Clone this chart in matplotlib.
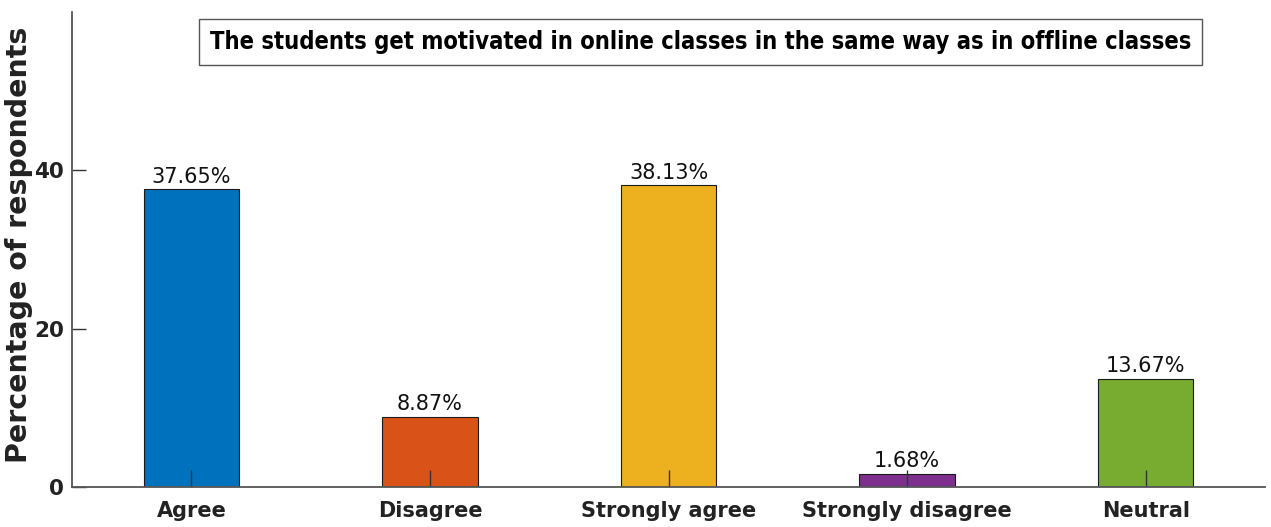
import matplotlib.pyplot as plt
import numpy as np

categories = ['Agree', 'Disagree', 'Strongly agree', 'Strongly disagree', 'Neutral']
percentages = [37.65, 8.87, 38.13, 1.68, 13.67]
bar_colors = ['#0072BD', '#D95319', '#EDB120', '#7E2F8E', '#77AC30']
title = 'The students get motivated in online classes in the same way as in offline classes'

fig = plt.figure(figsize=(12.71, 5.27), dpi=100)
ax = fig.add_axes([0.0567, 0.0759, 0.9386, 0.901])

x = np.arange(len(categories))
bars = ax.bar(x, percentages, width=0.4, color=bar_colors, edgecolor='#1a1a1a', linewidth=0.8)

for b, v in zip(bars, percentages):
    ax.text(b.get_x() + b.get_width() / 2, v + 0.3, f'{v:.2f}%',
            ha='center', va='bottom', fontsize=15, color='#111111')

ax.set_xlim(-0.5, 4.5)
ax.set_ylim(0, 60)
ax.set_yticks([0, 20, 40])
ax.set_xticks(x)
ax.set_xticklabels(categories, fontsize=15, fontweight='bold', color='#222222')
for lbl in ax.get_yticklabels():
    lbl.set_fontsize(15.5)
    lbl.set_fontweight('bold')
    lbl.set_color('#222222')
ax.tick_params(axis='y', direction='in', length=10, width=1, color='#333333', pad=6)
ax.tick_params(axis='x', direction='in', length=12, width=1, color='#333333', pad=10)

for s in ['top', 'right']:
    ax.spines[s].set_visible(False)
for s in ['left', 'bottom']:
    ax.spines[s].set_color('#555555')
    ax.spines[s].set_linewidth(1.3)

# y label placed in figure coords so it fits at the left edge
fig.text(19 / 1271, 1 - 245 / 527, 'Percentage of respondents', rotation=90,
         ha='center', va='center', fontsize=20.5, fontweight='bold', color='#222222')

ax.text(0.527, 0.937, title, transform=ax.transAxes, ha='center', va='center',
        fontsize=17, fontweight='bold', fontstretch='condensed', color='black',
        bbox=dict(boxstyle='square,pad=0.45', facecolor='white', edgecolor='#555555', linewidth=1))

fig.savefig('out.png', dpi=100)
